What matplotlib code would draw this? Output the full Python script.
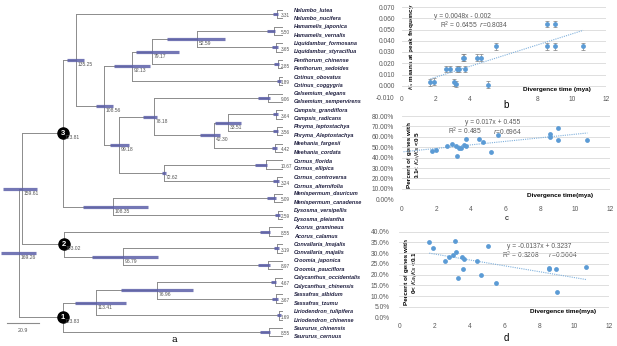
import numpy as np
import matplotlib
matplotlib.use('Agg')
import matplotlib.pyplot as plt

plt.rcParams['font.family'] = ['Liberation Sans', 'DejaVu Sans']

W, H = 617, 346

# ---- tree (a): 20 species pairs, top to bottom ----
pair_names = [
    ('Nelumbo_lutea', 'Nelumbo_nucifera'),
    ('Hamamelis_japonica', 'Hamamelis_vernalis'),
    ('Liquidambar_formosana', 'Liquidambar_styraciflua'),
    ('Penthorum_chinense', 'Penthorum_sedoides'),
    ('Cotinus_obovatus', 'Cotinus_coggygria'),
    ('Gelsemium_elegans', 'Gelsemium_sempervirens'),
    ('Campsis_grandiflora', 'Campsis_radicans'),
    ('Phryma_leptostachya', 'Phryma_Aleptostachya'),
    ('Meehania_fargesii', 'Meehania_cordata'),
    ('Cornus_florida', 'Cornus_ellipica'),
    ('Cornus_controversa', 'Cornus_alternifolia'),
    ('Menispermum_dauricum', 'Menispermum_canadense'),
    ('Dysosma_versipellis', 'Dysosma_pleiantha'),
    ('Acorus_gramineus', 'Acorus_calamus'),
    ('Convallaria_lmajalis', 'Convallaria_majalis'),
    ('Croomia_japonica', 'Croomia_pauciflora'),
    ('Calycanthus_occidentalis', 'Calycanthus_chinensis'),
    ('Sassafras_albidum', 'Sassafras_tzumu'),
    ('Liriodendron_tulipifera', 'Liriodendron_chinense'),
    ('Saururus_chinensis', 'Saururus_cernuus'),
]
pair_ages = [3.31, 5.50, 3.65, 2.85, 1.89, 9.06, 3.64, 3.56, 4.42, 10.67,
             3.24, 5.09, 2.59, 8.55, 3.19, 8.97, 4.67, 3.67, 1.69, 8.55]
pair_hpd = [2.6, 4.5, 2.6, 2.6, 1.3, 6.5, 2.0, 2.6, 2.0, 7.0,
            2.6, 4.5, 2.0, 6.0, 2.0, 6.5, 2.6, 2.6, 1.3, 6.0]

# internal nodes: name -> (depth, age label, hpd bar (lo, hi) or None, children, circle mark)
nodes = {
    'A': (197, '52.59', (167, 225), [1, 2], None),
    'B': (152, '79.17', (136, 179), ['A', 3], None),
    'C': (132, '92.13', (114, 150), ['B', 4], None),
    'J': (228, '33.51', (215, 241), [6, 7], None),
    'I': (214, '42.30', (200, 220), ['J', 8], None),
    'G': (154, '78.18', (143, 157), [5, 'I'], None),
    'H': (164, '72.62', (162, 166), [9, 10], None),
    'F': (119, '99.18', (110, 129), ['G', 'H'], None),
    'D': (104, '108.56', (96, 113), ['C', 'F'], None),
    'E': (76, '135.25', (67, 84), [0, 'D'], None),
    'K': (113, '108.35', (83, 148), [11, 12], None),
    'N3': (63, '123.81', None, ['E', 'K'], '3'),
    'L': (123, '96.79', (92, 158), [14, 15], None),
    'N2': (64, '103.02', None, [13, 'L'], '2'),
    'N': (157, '76.96', (121, 193), [16, 17], None),
    'M': (96, '113.41', (75, 126), ['N', 18], None),
    'N1': (63, '123.83', None, ['M', 19], '1'),
    'P': (22, '159.61', (3, 37), ['N3', 'N2'], None),
    'R': (19, '169.26', (1, 36), ['P', 'N1'], None),
}
scale_bar = 20.9

# ---- scatter (b): Ks means at peak frequency ----
b_x = [1.69, 1.89, 2.59, 2.85, 3.05, 3.19, 3.27, 3.35, 3.60, 3.64,
       3.70, 4.42, 4.67, 5.09, 5.55, 8.55, 8.56, 9.00, 9.00, 10.67]
b_y = [0.003, 0.0035, 0.015, 0.015, 0.003, 0.0015, 0.015, 0.015, 0.025, 0.025,
       0.015, 0.025, 0.025, 0.001, 0.035, 0.055, 0.035, 0.055, 0.035, 0.035]
b_err = 0.003
b_fit = (0.0048, -0.002)

# ---- scatter (c): percent of genes with 0.1 < Ka/Ks < 0.5 ----
c_x = [1.73, 1.98, 2.63, 2.90, 3.10, 3.20, 3.30, 3.40, 3.60, 3.70,
       3.68, 4.45, 4.70, 5.14, 5.57, 8.54, 8.56, 9.02, 9.00, 10.70]
c_y = [0.465, 0.47, 0.515, 0.53, 0.515, 0.415, 0.49, 0.495, 0.52, 0.515,
       0.58, 0.58, 0.555, 0.455, 0.615, 0.625, 0.595, 0.685, 0.57, 0.57]
c_fit = (0.017, 0.455)

# ---- scatter (d): percent of genes with 0 < Ka/Ks < 0.1 ----
d_x = [1.71, 1.94, 2.63, 2.86, 3.05, 3.18, 3.24, 3.33, 3.56, 3.70,
       3.66, 4.42, 4.67, 5.09, 5.52, 8.55, 8.56, 8.97, 9.00, 10.67]
d_y = [0.35, 0.326, 0.264, 0.282, 0.291, 0.358, 0.305, 0.186, 0.281, 0.271,
       0.225, 0.264, 0.198, 0.333, 0.16, 0.229, 0.225, 0.225, 0.121, 0.237]
d_fit = (-0.0137, 0.3237)

fig = plt.figure(figsize=(W / 100, H / 100), dpi=100)
ax0 = fig.add_axes([0, 0, 1, 1])
ax0.set_xlim(0, W)
ax0.set_ylim(H, 0)
ax0.axis('off')

line_c = '#8c8c8c'
bar_c = '#5c5fa8'
tip_x = 282
mya_px = 1.54
y0, dy = 14, 16.74

pos = {}
for i, age in enumerate(pair_ages):
    ym = y0 + i * dy
    xn = tip_x - age * mya_px
    pos[i] = (xn, ym)
    for k, s in enumerate((-1, 1)):
        yt = ym + s * dy / 4
        ax0.plot([xn, tip_x], [yt, yt], color=line_c, lw=0.7)
        ax0.text(294, yt, pair_names[i][k], fontsize=4.0, style='italic',
                 fontweight='bold', color='#1f1f40', va='center', ha='left')
    ax0.plot([xn, xn], [ym - dy / 4, ym + dy / 4], color=line_c, lw=0.7)
    ax0.plot([xn - pair_hpd[i] * mya_px, xn + 1.5], [ym, ym], color=bar_c,
             lw=2.2, solid_capstyle='butt', alpha=0.85)
    ax0.text(tip_x - 1, ym + 1.8, '%.2f' % age, fontsize=3.3, color='#555555',
             va='center', ha='left')


def place(name):
    if name in pos:
        return pos[name]
    x, lab, bar, kids, mark = nodes[name]
    ys = []
    for k in kids:
        kx, ky = place(k)
        ax0.plot([x, kx], [ky, ky], color=line_c, lw=0.7, zorder=1)
        ys.append(ky)
    ax0.plot([x, x], [min(ys), max(ys)], color=line_c, lw=0.7, zorder=1)
    y = (min(ys) + max(ys)) / 2
    if bar is not None:
        ax0.plot(bar, [y, y], color=bar_c, lw=2.3, solid_capstyle='butt',
                 alpha=0.85, zorder=2)
    if mark is not None:
        ax0.plot(x, y, 'o', color='black', ms=8, zorder=3)
        ax0.text(x, y, mark, color='white', fontsize=5.5, fontweight='bold',
                 ha='center', va='center', zorder=4)
    ax0.text(x + 2, y + 4.5, lab, fontsize=3.6, color='#555555',
             ha='left', va='center', zorder=4)
    pos[name] = (x, y)
    return x, y


place('R')

ax0.plot([7, 7 + scale_bar * mya_px], [323, 323], color=line_c, lw=0.8)
ax0.text(23, 331, '%.1f' % scale_bar, fontsize=3.8, color='#555555',
         ha='center', va='center')
ax0.text(174, 340, 'a', fontsize=7, family='DejaVu Serif', ha='center', va='center')


# ---- scatter panels ----
def panel(x0, x1, ytop, ybot):
    ax = fig.add_axes([x0 / W, 1 - ybot / H, (x1 - x0) / W, (ybot - ytop) / H])
    ax.set_facecolor('none')
    for sp in ax.spines.values():
        sp.set_visible(False)
    ax.tick_params(length=0, labelsize=4.8, labelcolor='#595959')
    ax.grid(axis='y', color='#d9d9d9', lw=0.6)
    ax.set_axisbelow(True)
    ax.set_xlim(0, 12)
    ax.set_xticks(range(0, 13, 2))
    return ax


pt_c = '#5b9bd5'
fit_kw = dict(color='#7fb0dc', lw=0.8, ls=(0, (1, 1)))

axb = panel(401.7, 605.7, 7, 97)
axb.set_ylim(-0.01, 0.07)
axb.set_yticks(np.arange(-0.01, 0.0701, 0.01))
axb.set_yticklabels(['%.3f' % v for v in np.arange(-0.01, 0.0701, 0.01)])
axb.set_xticklabels(['0', '2', '4', '', '8', '10', '12'])
axb.tick_params(axis='y', pad=5)
axb.tick_params(axis='x', pad=-1)
axb.errorbar(b_x, b_y, yerr=b_err, fmt='none', ecolor='#808080', elinewidth=0.5,
             capsize=1.2, capthick=0.5, zorder=2)
axb.scatter(b_x, b_y, s=12, color=pt_c, zorder=3, linewidths=0)
xf = np.array([min(b_x), max(b_x)])
axb.plot(xf, b_fit[0] * xf + b_fit[1], **fit_kw)

axc = panel(401.7, 610, 116, 199.3)
axc.set_ylim(0, 0.8)
axc.set_yticks(np.arange(0, 0.801, 0.1))
axc.set_yticklabels(['%.2f%%' % (v * 100) for v in np.arange(0, 0.801, 0.1)])
axc.tick_params(axis='y', pad=5.5)
axc.tick_params(axis='x', pad=5)
axc.scatter(c_x, c_y, s=12, color=pt_c, zorder=3, linewidths=0)
xf = np.array([0.1, max(c_x)])
axc.plot(xf, c_fit[0] * xf + c_fit[1], **fit_kw)

axd = panel(399.3, 609.3, 231.7, 317.7)
axd.set_ylim(0, 0.4)
axd.set_yticks(np.arange(0, 0.401, 0.05))
axd.set_yticklabels(['%.1f%%' % (v * 100) for v in np.arange(0, 0.401, 0.05)])
axd.tick_params(axis='y', pad=7)
axd.tick_params(axis='x', pad=4)
axd.scatter(d_x, d_y, s=12, color=pt_c, zorder=3, linewidths=0)
xf = np.array([min(d_x), max(d_x)])
axd.plot(xf, d_fit[0] * xf + d_fit[1], **fit_kw)

# annotations (figure pixel positions via ax0)
gray = '#595959'
ax0.text(462, 17, 'y = 0.0048x - 0.002', fontsize=4.8, color=gray, ha='center', va='center')
ax0.text(474, 25, 'R$^2$ = 0.6455  $r$=0.8034', fontsize=4.8, color=gray, ha='center', va='center')
ax0.text(412, 47, '$\\mathbf{\\mathit{K_s}}$ means at peak frequency', fontsize=4.6,
         fontweight='bold', rotation=90, ha='center', va='center')
ax0.text(557, 89, 'Divergence time (mya)', fontsize=4.6, fontweight='bold',
         ha='center', va='center')
ax0.text(506, 105, 'b', fontsize=7, ha='center', va='center')

ax0.text(493, 122, 'y = 0.017x + 0.455', fontsize=4.8, color=gray, ha='center', va='center')
ax0.text(465, 131, 'R$^2$ = 0.485', fontsize=4.8, color=gray, ha='center', va='center')
ax0.text(507, 131, '$r$=0.6964', fontsize=4.8, color=gray, ha='center', va='center')
ax0.text(414, 155, 'Percent of genes with\n0.1< $Ka/Ks$ <0.5', fontsize=4.6,
         fontweight='bold', rotation=90, ha='center', va='center', linespacing=1.1)
ax0.text(560, 195, 'Divergence time(mya)', fontsize=4.6, fontweight='bold',
         ha='center', va='center')
ax0.text(507, 218, 'c', fontsize=5.5, ha='center', va='center')

ax0.text(539, 247, 'y = -0.0137x + 0.3237', fontsize=4.8, color=gray, ha='center', va='center')
ax0.text(540, 255, 'R$^2$ = 0.3208      $r$=0.5664', fontsize=4.8, color=gray, ha='center', va='center')
ax0.text(411, 272, 'Percent of genes with\n0< $Ka/Ks$ <0.1', fontsize=4.6,
         fontweight='bold', rotation=90, ha='center', va='center', linespacing=1.1)
ax0.text(563, 311, 'Divergence time(mya)', fontsize=4.6, fontweight='bold',
         ha='center', va='center')
ax0.text(506, 338, 'd', fontsize=7, ha='center', va='center')

fig.savefig('out.png', dpi=100)
